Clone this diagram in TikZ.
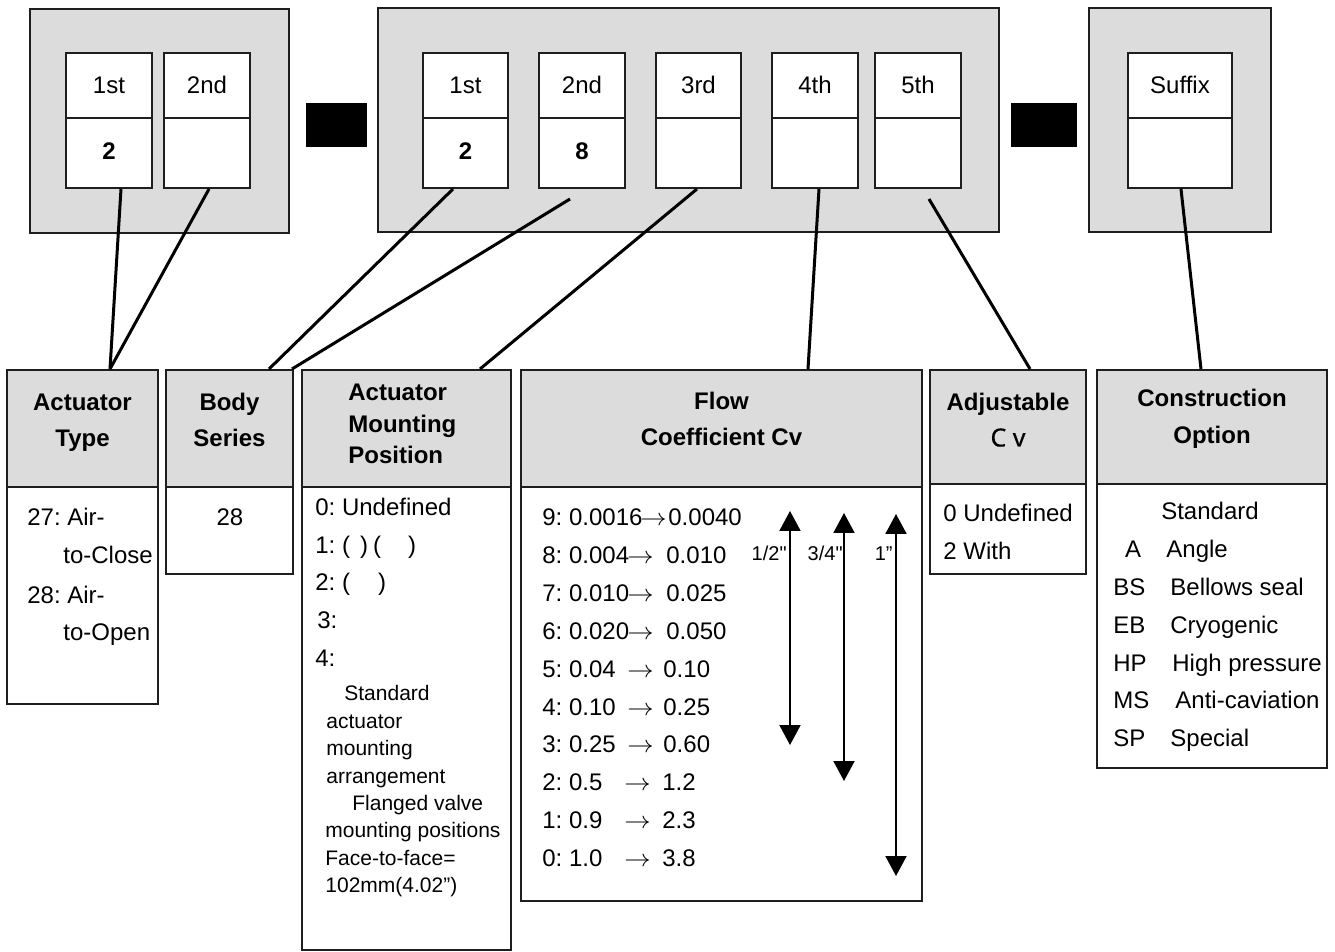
\documentclass[tikz,border=0pt]{standalone}
\usepackage{fontspec}
\setmainfont{Liberation Sans}[Ligatures=TeXOff]
\newfontfamily\cvfont{Noto Sans}[FakeBold=0.6]
\usetikzlibrary{fit,calc,arrows.meta}
\definecolor{panel}{HTML}{DCDCDC}
\definecolor{edge}{HTML}{1E1E1E}
\newcommand{\cvarrow}{\scalebox{1.1}[1]{$\rightarrow$}}
\begin{document}
\frenchspacing
\begin{tikzpicture}[x=0.5pt,y=-0.5pt,
  frame/.style={inner sep=0pt, draw=edge, line width=1pt},
  grp/.style={frame, fill=panel},
  cellbox/.style={frame, fill=white},
  hdrbox/.style={frame, fill=panel},
  bodybox/.style={frame, fill=white},
  sep/.style={inner sep=0pt, fill=black},
  conn/.style={line width=1.5pt, draw=black},
  big/.style={inner sep=0pt, font=\fontsize{12}{14}\selectfont},
  bigb/.style={inner sep=0pt, font=\fontsize{12}{14}\selectfont\bfseries},
  small/.style={inner sep=0pt, font=\fontsize{10.5}{12}\selectfont},
  tiny/.style={inner sep=0pt, font=\fontsize{10}{12}\selectfont},
  dbl/.style={{Triangle[width=10.5pt,length=10pt]}-{Triangle[width=10.5pt,length=10pt]}, line width=1pt},
]
\useasboundingbox (0,0) rectangle (1335,952);
\fill[white] (0,0) rectangle (1335,952);

% ---- code groups ----
\node[grp, fit={(30,9)(289,233)}] (g1) {};
\node[grp, fit={(378,8)(999,232)}] (g2) {};
\node[grp, fit={(1089,8)(1271,232)}] (g3) {};
\node[sep, fit={(306,103)(367,147)}] (d1) {};
\node[sep, fit={(1011,103)(1077,147)}] (d2) {};

\foreach \n/\xa/\xb/\lab/\val in {
  c11/66/152/1st/2, c12/164/250/2nd/{},
  c21/423/508/1st/2, c22/539/625/2nd/8, c23/656/741/3rd/{},
  c24/772/858/4th/{}, c25/875/961/5th/{}, c31/1128/1232/Suffix/{}} {
  \node[cellbox, fit={(\xa,53)(\xb,188)}] (\n) {};
  \draw[draw=edge, line width=1pt] (\xa,118) -- (\xb,118);
  \node[big, anchor=base] at ({(\xa+\xb)/2},93.5) {\lab};
  \node[bigb, anchor=base] at ({(\xa+\xb)/2},159.5) {\val};
}

% ---- description tables ----
\node[hdrbox, fit={(7,370)(158,487)}] (ath) {};
\node[bodybox, fit={(7,487)(158,704)}] (atb) {};
\node[hdrbox, fit={(166,370)(293,487)}] (bsh) {};
\node[bodybox, fit={(166,487)(293,574)}] (bsb) {};
\node[hdrbox, fit={(302,370)(511,487)}] (amh) {};
\node[bodybox, fit={(302,487)(511,950)}] (amb) {};
\node[hdrbox, fit={(521,370)(922,487)}] (fch) {};
\node[bodybox, fit={(521,487)(922,901)}] (fcb) {};
\node[hdrbox, fit={(930,370)(1086,484)}] (ach) {};
\node[bodybox, fit={(930,484)(1086,574)}] (acb) {};
\node[hdrbox, fit={(1097,370)(1327,484)}] (coh) {};
\node[bodybox, fit={(1097,484)(1327,768)}] (cob) {};

% ---- connectors ----
\draw[conn] ($(c11.south)+(12,0)$) -- ($(ath.north)+(27.5,0)$);
\draw[conn] ($(c12.south)+(2,0)$) -- ($(ath.north)+(27.5,0)$);
\draw[conn] ($(c21.south)+(-12.5,0)$) -- ($(bsh.north east)+(-25,0)$);
\draw[conn] ($(c22.south)+(-12,10)$) -- ($(bsh.north east)+(-2,0)$);
\draw[conn] ($(c23.south)+(-1.5,0)$) -- ($(amh.north)+(73.5,0)$);
\draw[conn] ($(c24.south)+(4,0)$) -- ($(fch.north)+(86.5,0)$);
\draw[conn] ($(c25.south)+(11,10)$) -- ($(ach.north)+(22,0)$);
\draw[conn] ($(c31.south)+(1,0)$) -- ($(coh.north)+(-11,0)$);

% ---- headers ----
\node[bigb, anchor=base] at (82.5,410.5) {Actuator};
\node[bigb, anchor=base] at (82.5,447) {Type};
\node[bigb, anchor=base] at (229.5,410.5) {Body};
\node[bigb, anchor=base] at (229.5,447) {Series};
\node[bigb, anchor=base west] at (348,400.5) {Actuator};
\node[bigb, anchor=base west] at (348,432.5) {Mounting};
\node[bigb, anchor=base west] at (348,463.5) {Position};
\node[bigb, anchor=base] at (721.5,409.5) {Flow};
\node[bigb, anchor=base] at (721.5,445.5) {Coefficient Cv};
\node[bigb, anchor=base] at (1008,410.5) {Adjustable};
\node[big, anchor=base, font=\fontsize{12.5}{14}\cvfont] at (1008,446.5) {C v};
\node[bigb, anchor=base] at (1212,406.5) {Construction};
\node[bigb, anchor=base] at (1212,443.5) {Option};

% ---- actuator type ----
\node[big, anchor=base west] at (27,525.5) {27: Air-};
\node[big, anchor=base west] at (63,563.5) {to-Close};
\node[big, anchor=base west] at (27,603.5) {28: Air-};
\node[big, anchor=base west] at (63,640.5) {to-Open};

% ---- body series ----
\node[big, anchor=base] at (230,525.5) {28};

% ---- mounting position ----
\node[big, anchor=base west] at (315,515.5) {0: Undefined};
\node[big, anchor=base west] at (315,553.5) {1: (\hspace{5pt})\hspace{2.5pt}(\hspace{13.5pt})};
\node[big, anchor=base west] at (315,590.5) {2: (\hspace{14pt})};
\node[big, anchor=base west] at (317,628.5) {3:};
\node[big, anchor=base west] at (315,666) {4:};
\node[small, anchor=base west] at (344,700.5) {Standard};
\node[small, anchor=base west] at (326,728) {actuator};
\node[small, anchor=base west] at (326,755.5) {mounting};
\node[small, anchor=base west] at (326,783) {arrangement};
\node[small, anchor=base west] at (352,810) {Flanged valve};
\node[small, anchor=base west] at (325,837.5) {mounting positions};
\node[small, anchor=base west] at (325,865) {Face-to-face=};
\node[small, anchor=base west] at (325,892) {102mm(4.02”)};

% ---- flow coefficient ----
\foreach \i/\l/\ax/\r/\rx in {
  0/{9: 0.0016}/640/0.0040/668, 1/{8: 0.004}/627/0.010/666,
  2/{7: 0.010}/627/0.025/666, 3/{6: 0.020}/627/0.050/666,
  4/{5: 0.04}/627/0.10/663, 5/{4: 0.10}/627/0.25/663,
  6/{3: 0.25}/627/0.60/663, 7/{2: 0.5}/624/1.2/662,
  8/{1: 0.9}/624/2.3/662, 9/{0: 1.0}/624/3.8/662} {
  \node[big, anchor=base west] at (542,{525.5+37.9*\i}) {\l};
  \node[big, anchor=base west] at (\ax,{525.5+37.9*\i}) {\cvarrow};
  \node[big, anchor=base west] at (\rx,{525.5+37.9*\i}) {\r};
}
\coordinate (h1t) at (790,511); \coordinate (h1b) at (790,745);
\coordinate (h2t) at (844,513); \coordinate (h2b) at (844,781);
\coordinate (h3t) at (896,514); \coordinate (h3b) at (896,876);
\draw[dbl] (h1t) -- (h1b);
\draw[dbl] (h2t) -- (h2b);
\draw[dbl] (h3t) -- (h3b);
\node[tiny, anchor=base east] at (787,560.5) {1/2"};
\node[tiny, anchor=base east] at (843,560.5) {3/4"};
\node[tiny, anchor=base east] at (893,560.5) {1”};

% ---- adjustable Cv ----
\node[big, anchor=base west] at (943,521.5) {0 Undefined};
\node[big, anchor=base west] at (943,559.5) {2 With};

% ---- construction option ----
\node[big, anchor=base] at (1210,519.5) {Standard};
\node[big, anchor=base] at (1133,557.5) {A};
\node[big, anchor=base west] at (1166,557.5) {Angle};
\foreach \k/\c/\d/\dx in {0/BS/Bellows seal/1170, 1/EB/Cryogenic/1170,
  2/HP/High pressure/1172, 3/MS/Anti-caviation/1175, 4/SP/Special/1170} {
  \node[big, anchor=base west] at (1113,{595.5+37.8*\k}) {\c};
  \node[big, anchor=base west] at (\dx,{595.5+37.8*\k}) {\d};
}
\end{tikzpicture}
\end{document}
